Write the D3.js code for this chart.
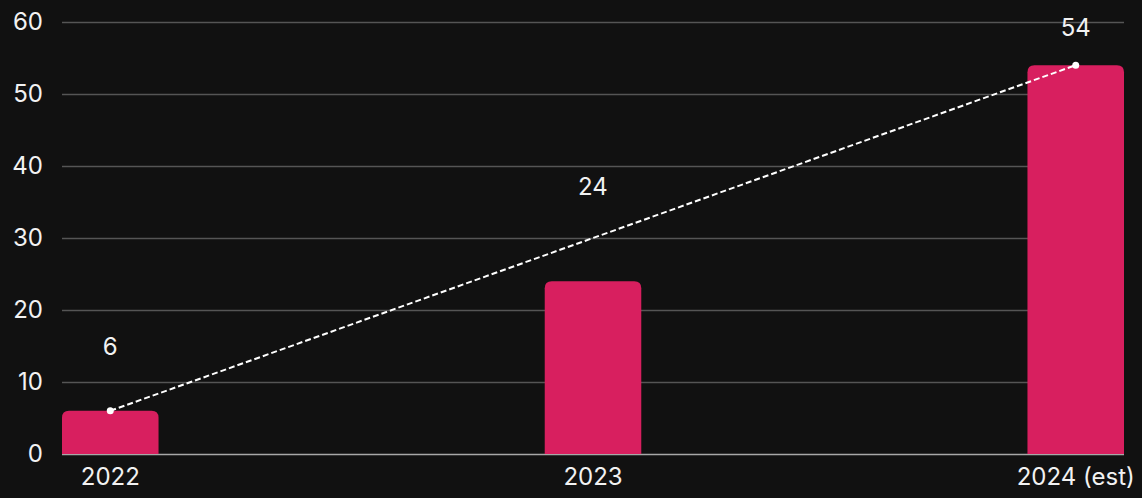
<!DOCTYPE html>
<html>
<head>
<meta charset="utf-8">
<script src="https://cdn.jsdelivr.net/npm/d3@7/dist/d3.min.js"></script>
<style>
  html, body { margin: 0; padding: 0; background: #111111; }
  svg { display: block; }
  text { font-family: Inter, "Open Sans", sans-serif; fill: #f2f2f2; }
</style>
</head>
<body>
<svg id="chart" width="1142" height="498"></svg>
<script>
// Yearly values, the last one an estimate
const categories = ["2022", "2023", "2024 (est)"];
const values = [6, 24, 54];
const yTicks = [0, 10, 20, 30, 40, 50, 60];

const W = 1142, H = 498;
const margin = { top: 22, right: 18, bottom: 44, left: 62 };

const svg = d3.select("#chart");

const x = d3.scaleBand()
  .domain(categories)
  .range([margin.left, W - margin.right])
  .paddingInner(0.8)
  .paddingOuter(0);

const y = d3.scaleLinear()
  .domain([0, 60])
  .range([H - margin.bottom, margin.top]);

// Horizontal gridlines with tick labels
const yAxis = d3.axisLeft(y)
  .tickValues(yTicks)
  .tickSize(-(W - margin.left - margin.right))
  .tickPadding(19);

const gy = svg.append("g")
  .attr("transform", `translate(${margin.left},0)`)
  .call(yAxis);
gy.select(".domain").remove();
gy.selectAll(".tick line")
  .attr("stroke", d => d === 0 ? "#a8a8a8" : "#555555")
  .attr("stroke-width", 1.5);
gy.selectAll(".tick text")
  .attr("font-size", 24)
  .attr("fill", "#f2f2f2");

// Bars with rounded top corners
const r = 7;
function barPath(d, i) {
  const x0 = x(categories[i]), w = x.bandwidth();
  const yt = y(d), yb = y(0);
  const rr = Math.min(r, (yb - yt));
  return `M${x0},${yb}V${yt + rr}Q${x0},${yt} ${x0 + rr},${yt}` +
         `H${x0 + w - rr}Q${x0 + w},${yt} ${x0 + w},${yt + rr}V${yb}Z`;
}
svg.append("g")
  .selectAll("path")
  .data(values)
  .join("path")
  .attr("d", barPath)
  .attr("fill", "#d81f5f");

// Category labels
svg.append("g")
  .attr("transform", `translate(0,${y(0)})`)
  .call(d3.axisBottom(x).tickSize(0).tickPadding(14))
  .call(g => g.select(".domain").remove())
  .selectAll("text")
  .attr("font-size", 24)
  .attr("fill", "#f2f2f2");

// Dashed trend line from first to last value
const cx = c => x(c) + x.bandwidth() / 2;
const trend = [
  { c: categories[0], v: values[0] },
  { c: categories[categories.length - 1], v: values[values.length - 1] }
];
const line = d3.line().x(d => cx(d.c)).y(d => y(d.v));
svg.append("path")
  .datum(trend)
  .attr("d", line)
  .attr("fill", "none")
  .attr("stroke", "#ffffff")
  .attr("stroke-width", 2)
  .attr("stroke-dasharray", "6,3");
svg.append("g")
  .selectAll("circle")
  .data(trend)
  .join("circle")
  .attr("cx", d => cx(d.c))
  .attr("cy", d => y(d.v))
  .attr("r", 3.5)
  .attr("fill", "#ffffff");

// Value labels, placed above the trend line at each category
const tLinear = d3.scaleLinear()
  .domain([cx(categories[0]), cx(categories[categories.length - 1])])
  .range([values[0], values[values.length - 1]]);
svg.append("g")
  .selectAll("text")
  .data(values)
  .join("text")
  .attr("x", (d, i) => cx(categories[i]))
  .attr("y", (d, i) => Math.max(y(tLinear(cx(categories[i]))) * 0.924 - 33, margin.top + 1))
  .attr("text-anchor", "middle")
  .attr("dominant-baseline", "central")
  .attr("font-size", 24)
  .text(d => d);
</script>
</body>
</html>
